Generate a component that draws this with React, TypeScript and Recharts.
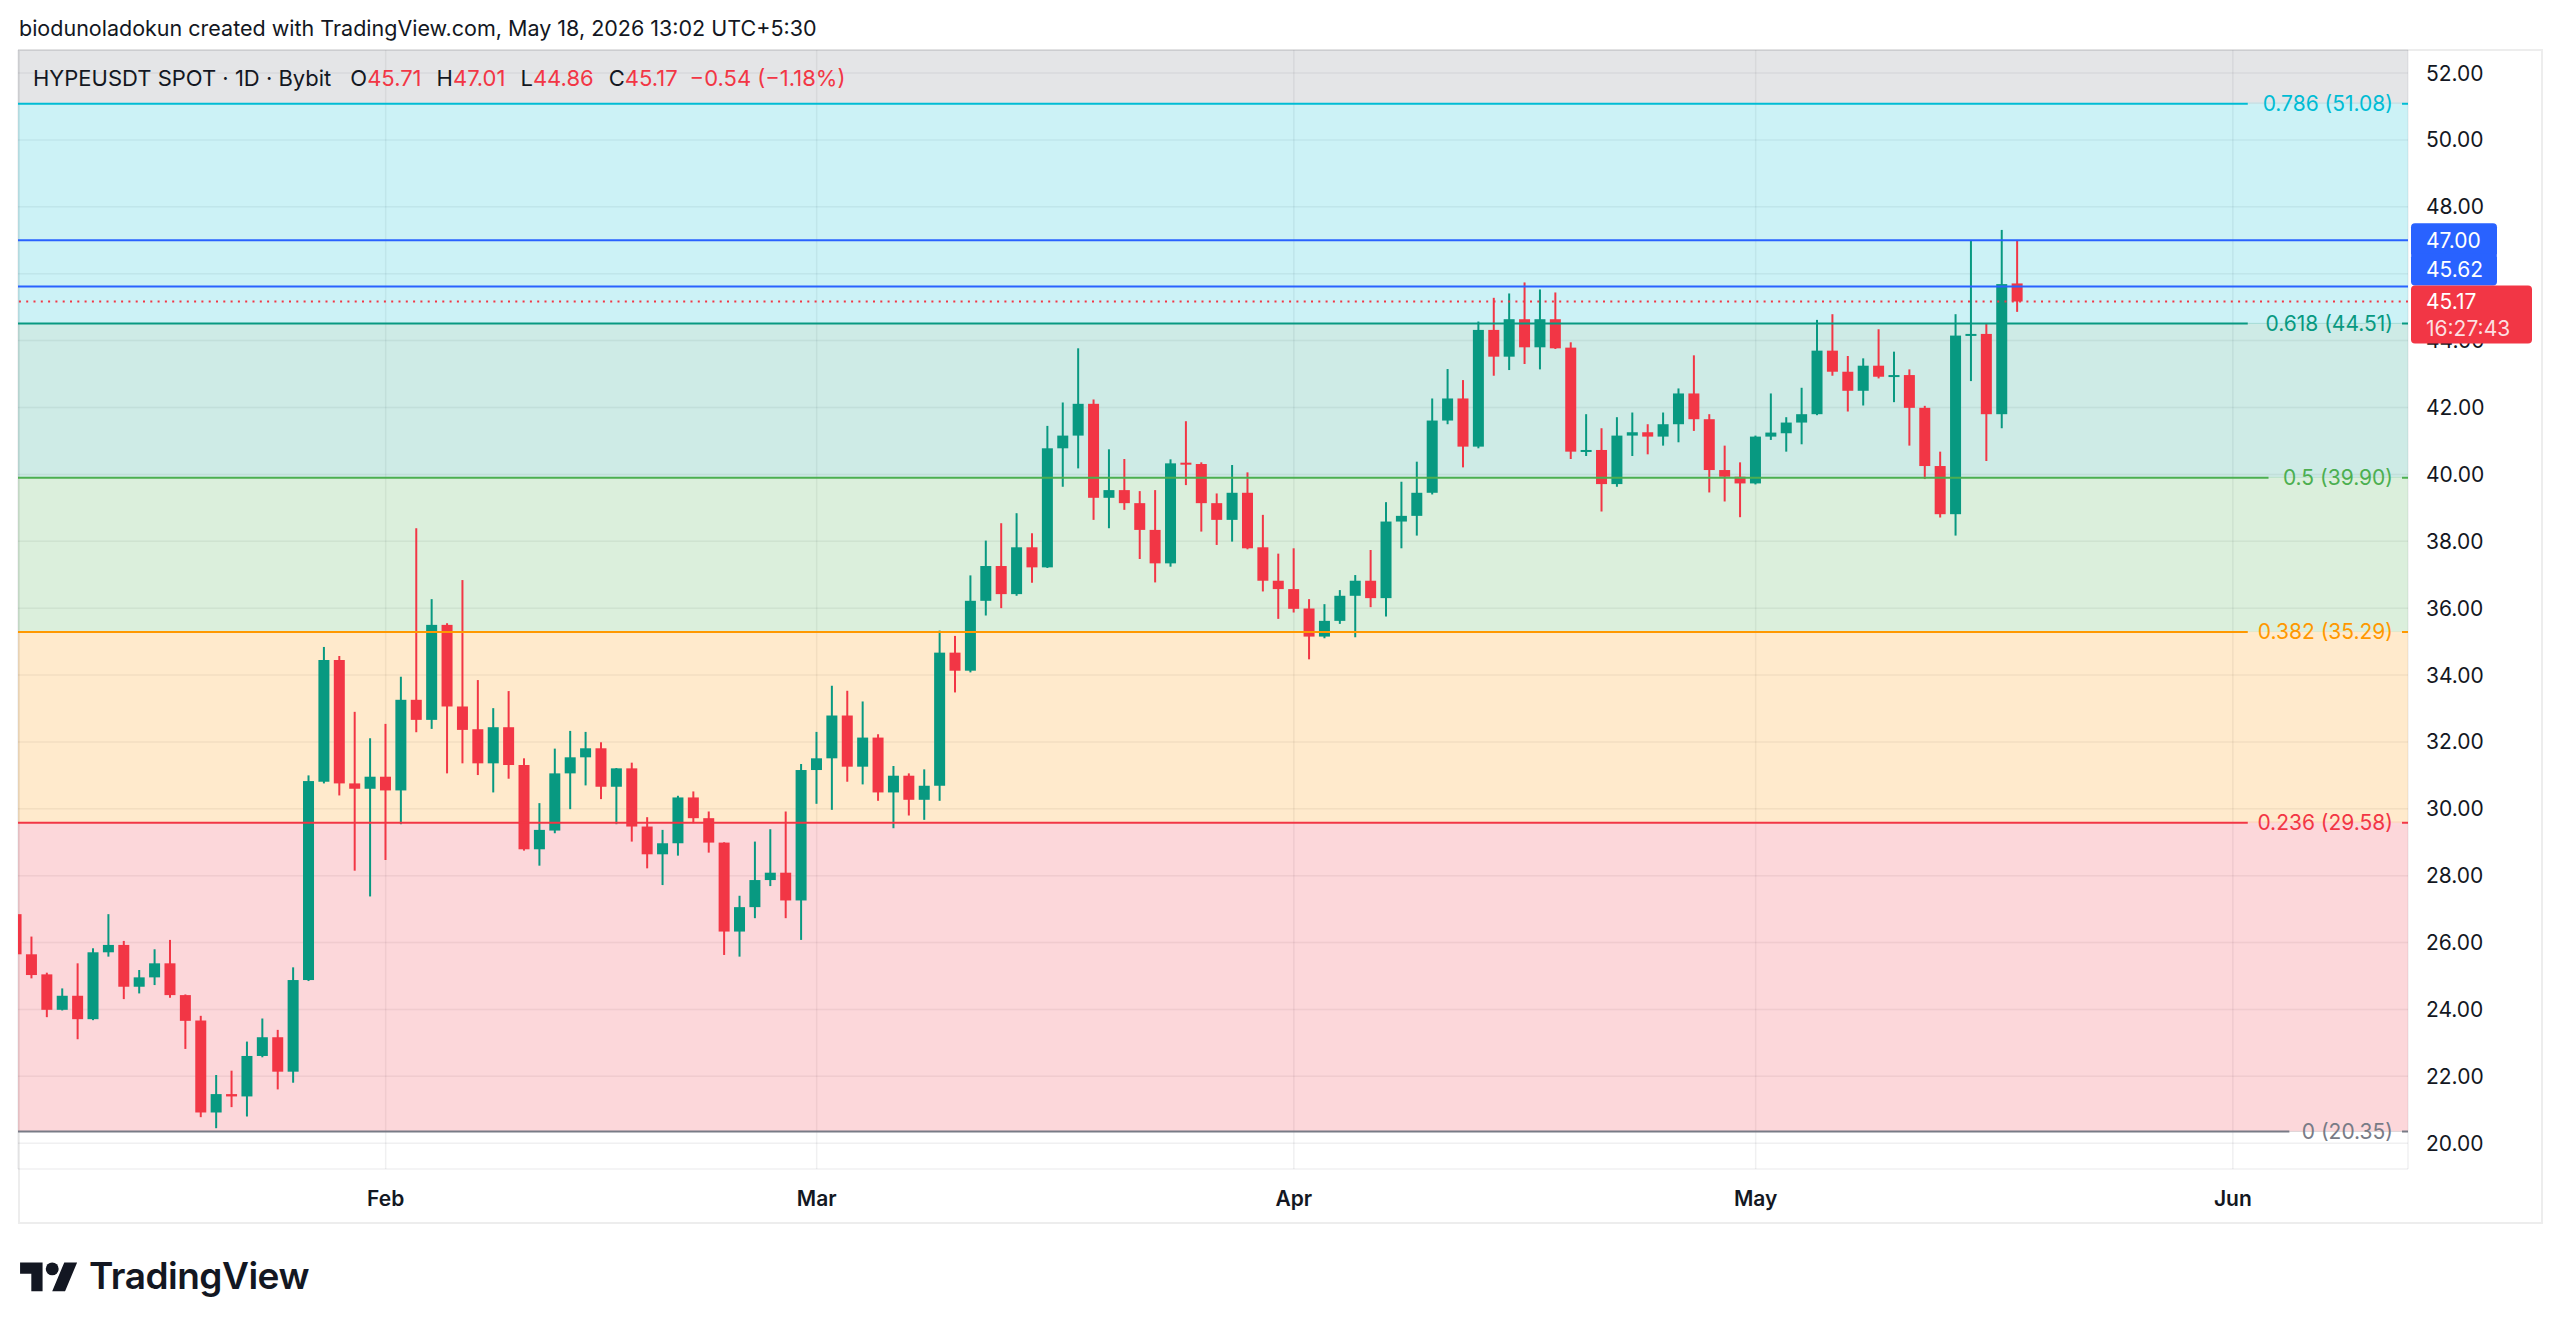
import React from 'react';
import { ComposedChart, Bar, XAxis, YAxis, CartesianGrid, ReferenceArea, ReferenceLine } from 'recharts';

type Ohlc = [number, number, number, number];

// HYPEUSDT daily candles: open, high, low, close
const janCandles: Ohlc[] = [
  [26.85, 27.0, 25.3, 25.65], [25.65, 26.18, 24.93, 25.03], [25.05, 25.1, 23.77, 23.99], [23.99, 24.63, 23.97, 24.41],
  [24.41, 25.38, 23.11, 23.71], [23.71, 25.83, 23.68, 25.71], [25.71, 26.85, 25.58, 25.93], [25.93, 26.05, 24.31, 24.68],
  [24.68, 25.18, 24.48, 24.96], [24.96, 25.8, 24.73, 25.38], [25.38, 26.08, 24.35, 24.43], [24.43, 24.45, 22.82, 23.66],
  [23.67, 23.81, 20.78, 20.92], [20.92, 22.04, 20.45, 21.47], [21.47, 22.17, 21.08, 21.4], [21.4, 23.04, 20.8, 22.61],
  [22.61, 23.73, 22.57, 23.17], [23.17, 23.39, 21.61, 22.14], [22.14, 25.26, 21.81, 24.88], [24.88, 31.0, 24.85, 30.83],
  [30.81, 34.84, 30.76, 34.45], [34.45, 34.57, 30.4, 30.76], [30.76, 32.9, 28.15, 30.6], [30.6, 32.11, 27.38, 30.96],
];
const febCandles: Ohlc[] = [
  [30.96, 32.54, 28.47, 30.55], [30.55, 33.95, 29.54, 33.26], [33.26, 38.39, 32.29, 32.66], [32.66, 36.27, 32.39, 35.5],
  [35.5, 35.55, 31.06, 33.06], [33.06, 36.84, 31.36, 32.36], [32.38, 33.85, 31.01, 31.36], [31.36, 33.01, 30.49, 32.44],
  [32.44, 33.52, 30.9, 31.31], [31.31, 31.51, 28.75, 28.79], [28.79, 30.17, 28.3, 29.37], [29.35, 31.8, 29.27, 31.06],
  [31.06, 32.33, 29.99, 31.54], [31.54, 32.3, 30.7, 31.81], [31.81, 31.99, 30.29, 30.66], [30.66, 31.22, 29.54, 31.21],
  [31.21, 31.38, 29.02, 29.47], [29.47, 29.75, 28.22, 28.64], [28.64, 29.37, 27.72, 28.97], [28.97, 30.39, 28.6, 30.34],
  [30.34, 30.52, 29.57, 29.72], [29.72, 29.92, 28.69, 28.99], [28.99, 29.0, 25.63, 26.33], [26.33, 27.4, 25.58, 27.06],
  [27.06, 29.02, 26.73, 27.87], [27.87, 29.39, 27.69, 28.09], [28.09, 29.92, 26.73, 27.26], [27.26, 31.34, 26.08, 31.16],
];
const marCandles: Ohlc[] = [
  [31.16, 32.3, 30.15, 31.51], [31.51, 33.68, 29.97, 32.79], [32.79, 33.53, 30.81, 31.26], [31.26, 33.21, 30.73, 32.13],
  [32.13, 32.23, 30.24, 30.49], [30.49, 31.28, 29.42, 30.99], [30.99, 31.06, 29.8, 30.27], [30.27, 31.18, 29.67, 30.69],
  [30.69, 35.33, 30.24, 34.67], [34.67, 35.17, 33.48, 34.13], [34.13, 36.98, 34.08, 36.22], [36.22, 38.02, 35.78, 37.26],
  [37.26, 38.54, 36.0, 36.42], [36.42, 38.84, 36.37, 37.82], [37.82, 38.24, 36.76, 37.22], [37.22, 41.45, 37.2, 40.78],
  [40.78, 42.15, 39.63, 41.16], [41.16, 43.77, 40.18, 42.11], [42.11, 42.24, 38.64, 39.3], [39.3, 40.75, 38.39, 39.53],
  [39.53, 40.46, 38.94, 39.14], [39.14, 39.5, 37.47, 38.34], [38.34, 39.53, 36.77, 37.34], [37.34, 40.45, 37.24, 40.33],
  [40.35, 41.59, 39.68, 40.31], [40.31, 40.36, 38.29, 39.14], [39.14, 39.43, 37.89, 38.64], [38.64, 40.28, 37.99, 39.45],
  [39.45, 40.06, 37.76, 37.79], [37.82, 38.79, 36.5, 36.82], [36.82, 37.63, 35.68, 36.57],
];
const aprCandles: Ohlc[] = [
  [36.57, 37.79, 35.87, 35.98], [35.99, 36.27, 34.47, 35.15], [35.15, 36.12, 35.1, 35.62], [35.62, 36.54, 35.53, 36.37],
  [36.37, 36.99, 35.13, 36.82], [36.82, 37.74, 36.03, 36.3], [36.3, 39.17, 35.75, 38.59], [38.59, 39.78, 37.79, 38.76],
  [38.76, 40.38, 38.17, 39.45], [39.45, 42.27, 39.4, 41.61], [41.61, 43.15, 41.5, 42.27], [42.27, 42.82, 40.21, 40.83],
  [40.83, 44.57, 40.78, 44.32], [44.32, 45.28, 42.95, 43.52], [43.52, 45.41, 43.12, 44.64], [44.64, 45.74, 43.3, 43.8],
  [43.8, 45.53, 43.14, 44.64], [44.64, 45.44, 43.75, 43.77], [43.79, 43.95, 40.46, 40.68], [40.68, 41.8, 40.55, 40.73],
  [40.73, 41.38, 38.89, 39.71], [39.71, 41.71, 39.63, 41.16], [41.16, 41.85, 40.55, 41.26], [41.26, 41.5, 40.6, 41.13],
  [41.13, 41.85, 40.86, 41.5], [41.5, 42.57, 40.96, 42.42], [42.42, 43.56, 41.3, 41.65], [41.65, 41.8, 39.46, 40.13],
  [40.13, 40.86, 39.19, 39.93], [39.93, 40.36, 38.72, 39.73],
];
const mayCandles: Ohlc[] = [
  [39.73, 41.16, 39.7, 41.13], [41.13, 42.42, 41.03, 41.25], [41.23, 41.71, 40.68, 41.55], [41.55, 42.59, 40.9, 41.8],
  [41.8, 44.62, 41.77, 43.7], [43.7, 44.79, 42.95, 43.07], [43.07, 43.54, 41.88, 42.5], [42.5, 43.47, 42.06, 43.25],
  [43.25, 44.34, 42.87, 42.92], [42.92, 43.67, 42.16, 42.97], [42.97, 43.14, 40.86, 41.99], [41.99, 42.05, 39.86, 40.25],
  [40.25, 40.68, 38.71, 38.81], [38.81, 44.79, 38.17, 44.15], [44.15, 46.99, 42.79, 44.2], [44.2, 44.52, 40.4, 41.8],
  [41.8, 47.31, 41.38, 45.69], [45.71, 47.01, 44.86, 45.17],
];

// day-of-year (Jan 1 = 0) of each month's first candle
const monthStartDays = [7, 31, 59, 90, 120];
const monthCandles = [janCandles, febCandles, marCandles, aprCandles, mayCandles];

const timeTicks = [31, 59, 90, 120, 151];
const timeLabels = ['Feb', 'Mar', 'Apr', 'May', 'Jun'];
const priceTicks = [20, 22, 24, 26, 28, 30, 32, 34, 36, 38, 40, 42, 44, 46, 48, 50, 52];

// Fibonacci retracement levels
const fibRatios = ['0', '0.236', '0.382', '0.5', '0.618', '0.786', '1'];
const fibPrices = [20.35, 29.58, 35.29, 39.9, 44.51, 51.08, 59.46];
const fibColors = ['#787b86', '#f23645', '#ff9800', '#4caf50', '#089981', '#00bcd4', '#787b86'];

const rangeLines = [47.0, 45.62];
const lastPrice = 45.17;
const countdown = '16:27:43';

const UP = '#089981';
const DOWN = '#f23645';
const BLUE = '#2962ff';
const TEXT = '#131722';
const FONT = 'Inter, "Noto Sans", sans-serif';

const X_DOMAIN = [7.114, 162.38];
const Y_DOMAIN = [19.23, 52.69];

const candles = monthCandles.flatMap((rows, m) =>
  rows.map(([open, high, low, close], i) => ({
    day: monthStartDays[m] + i,
    open,
    high,
    low,
    close,
    range: [low, high],
  }))
);

function Candle(props: any) {
  const { x, y, width, height, payload } = props;
  const { open, high, low, close } = payload;
  const color = close >= open ? UP : DOWN;
  const span = high - low || 1;
  const toY = (v: number) => y + ((high - v) / span) * height;
  const cx = x + width / 2;
  const top = toY(Math.max(open, close));
  const bottom = toY(Math.min(open, close));
  return (
    <g>
      <line x1={cx} x2={cx} y1={y} y2={y + height} stroke={color} strokeWidth={2} />
      <rect x={x} y={top} width={width} height={Math.max(bottom - top, 2)} fill={color} />
    </g>
  );
}

function MonthTick(props: any) {
  const { x, y, payload } = props;
  const idx = timeTicks.indexOf(payload.value);
  return (
    <text x={x} y={y + 29} textAnchor="middle" dominantBaseline="central" fill={TEXT}
      fontSize={21} fontWeight={600} fontFamily={FONT}>
      {timeLabels[idx]}
    </text>
  );
}

// level caption at the right end of the line, with the line broken behind it
const fibLabel = (i: number) => (p: any) => {
  const { x, y, width } = p.viewBox;
  const text = `${fibRatios[i]} (${fibPrices[i].toFixed(2)})`;
  const right = x + width - 15;
  const left = right - text.length * 10.4 - 10;
  const w = right + 9 - left;
  return (
    <g>
      <rect x={left} y={y - 1.5} width={w} height={1.5} fill="#fff" />
      <rect x={left} y={y - 1.5} width={w} height={1.5} fill={fibColors[i + 1]} fillOpacity={0.2} />
      <rect x={left} y={y} width={w} height={1.5} fill="#fff" />
      {i > 0 && <rect x={left} y={y} width={w} height={1.5} fill={fibColors[i]} fillOpacity={0.2} />}
      <text x={right} y={y} textAnchor="end" dominantBaseline="central" fill={fibColors[i]}
        fontSize={21} fontFamily={FONT}>
        {text}
      </text>
    </g>
  );
};

// price tag on the axis; dy shifts a tag clear of its neighbours
const tagLabel = (fill: string, lines: string[], dy: number, h: number, w: number) => (p: any) => {
  const { x, y, width } = p.viewBox;
  const left = x + width + 3;
  const top = y + dy - h / 2;
  return (
    <g>
      <rect x={left} y={top} width={w} height={h} rx={4} fill={fill} />
      {lines.map((t, k) => (
        <text key={k} x={x + width + 18} y={top + (lines.length === 1 ? h / 2 : 16 + k * 27)}
          dominantBaseline="central" fill="#fff" fillOpacity={k === 0 ? 1 : 0.85}
          fontSize={21} fontFamily={FONT}>
          {t}
        </text>
      ))}
    </g>
  );
};

export default function App() {
  return (
    <div style={{ position: 'absolute', left: 0, top: 0, width: 2560, height: 1333, background: '#fff', fontFamily: FONT, color: TEXT }}>
      <div style={{ position: 'absolute', left: 19, top: 14, fontSize: 21.5, lineHeight: '28px', whiteSpace: 'nowrap' }}>
        biodunoladokun created with TradingView.com, May 18, 2026 13:02 UTC+5:30
      </div>

      <div style={{ position: 'absolute', left: 18, top: 49, width: 2521, height: 1171, border: '2px solid #ededed' }} />

      <ComposedChart width={2560} height={1333} data={candles}
        margin={{ top: 50, right: 19, bottom: 111, left: 18 }}
        style={{ position: 'absolute', left: 0, top: 0 }}>
        <CartesianGrid stroke="rgba(42, 46, 57, 0.07)" strokeWidth={1.5} />
        {fibPrices.slice(1).map((p, k) => (
          <ReferenceArea key={`band-${k}`} y1={fibPrices[k]} y2={p} fill={fibColors[k + 1]}
            fillOpacity={0.2} strokeOpacity={0} ifOverflow="hidden" />
        ))}
        <XAxis type="number" dataKey="day" domain={X_DOMAIN} allowDataOverflow
          ticks={timeTicks} interval={0} axisLine={false} tickLine={false} tickSize={0}
          tickMargin={0} height={53} tick={<MonthTick />} />
        <YAxis orientation="right" type="number" domain={Y_DOMAIN} allowDataOverflow
          ticks={priceTicks} interval={0} axisLine={false} tickLine={false} tickSize={0}
          tickMargin={18} width={133} tickFormatter={(v: number) => v.toFixed(2)}
          tick={{ fill: TEXT, fontSize: 21, fontFamily: FONT }} />
        {fibPrices.slice(0, 6).map((p, i) => (
          <ReferenceLine key={`fib-${i}`} y={p} stroke={fibColors[i]} strokeWidth={2} label={fibLabel(i)} />
        ))}
        {rangeLines.map((p) => (
          <ReferenceLine key={`range-${p}`} y={p} stroke={BLUE} strokeWidth={2} />
        ))}
        <ReferenceLine y={lastPrice} stroke={DOWN} strokeWidth={2} strokeDasharray="2 5.3" />
        <Bar dataKey="range" barSize={11} shape={<Candle />} isAnimationActive={false} />
      </ComposedChart>

      {/* axis price tags, drawn on a second layer so they sit above the tick labels */}
      <ComposedChart width={2560} height={1333} data={candles}
        margin={{ top: 50, right: 152, bottom: 164, left: 18 }}
        style={{ position: 'absolute', left: 0, top: 0, pointerEvents: 'none' }}>
        <XAxis type="number" dataKey="day" domain={X_DOMAIN} allowDataOverflow hide />
        <YAxis type="number" domain={Y_DOMAIN} allowDataOverflow hide />
        <ReferenceLine y={rangeLines[0]} strokeOpacity={0}
          label={tagLabel(BLUE, [rangeLines[0].toFixed(2)], 0, 34, 86)} />
        <ReferenceLine y={rangeLines[1]} strokeOpacity={0}
          label={tagLabel(BLUE, [rangeLines[1].toFixed(2)], -17, 32, 86)} />
        <ReferenceLine y={lastPrice} strokeOpacity={0}
          label={tagLabel(DOWN, [lastPrice.toFixed(2), countdown], 13, 58, 121)} />
      </ComposedChart>

      <div style={{ position: 'absolute', left: 33, top: 63, fontSize: 22, lineHeight: '30px', whiteSpace: 'nowrap' }}>
        <span>HYPEUSDT SPOT · 1D · Bybit</span>
        <span style={{ marginLeft: 19 }}>O<span style={{ color: DOWN }}>45.71</span></span>
        <span style={{ marginLeft: 15 }}>H<span style={{ color: DOWN }}>47.01</span></span>
        <span style={{ marginLeft: 15 }}>L<span style={{ color: DOWN }}>44.86</span></span>
        <span style={{ marginLeft: 15 }}>C<span style={{ color: DOWN }}>45.17</span></span>
        <span style={{ marginLeft: 12, color: DOWN }}>−0.54 (−1.18%)</span>
      </div>

      <svg style={{ position: 'absolute', left: 20, top: 1256 }} width={58} height={45} viewBox="0 0 36 28">
        <path d="M14 22H7V11H0V4h14v18zM28 22h-8l7.5-18h8L28 22z" fill="#131722" />
        <circle cx="20" cy="8" r="4" fill="#131722" />
      </svg>
      <div style={{ position: 'absolute', left: 89, top: 1254, fontSize: 37, fontWeight: 600, lineHeight: '44px', letterSpacing: -0.5 }}>
        TradingView
      </div>
    </div>
  );
}
